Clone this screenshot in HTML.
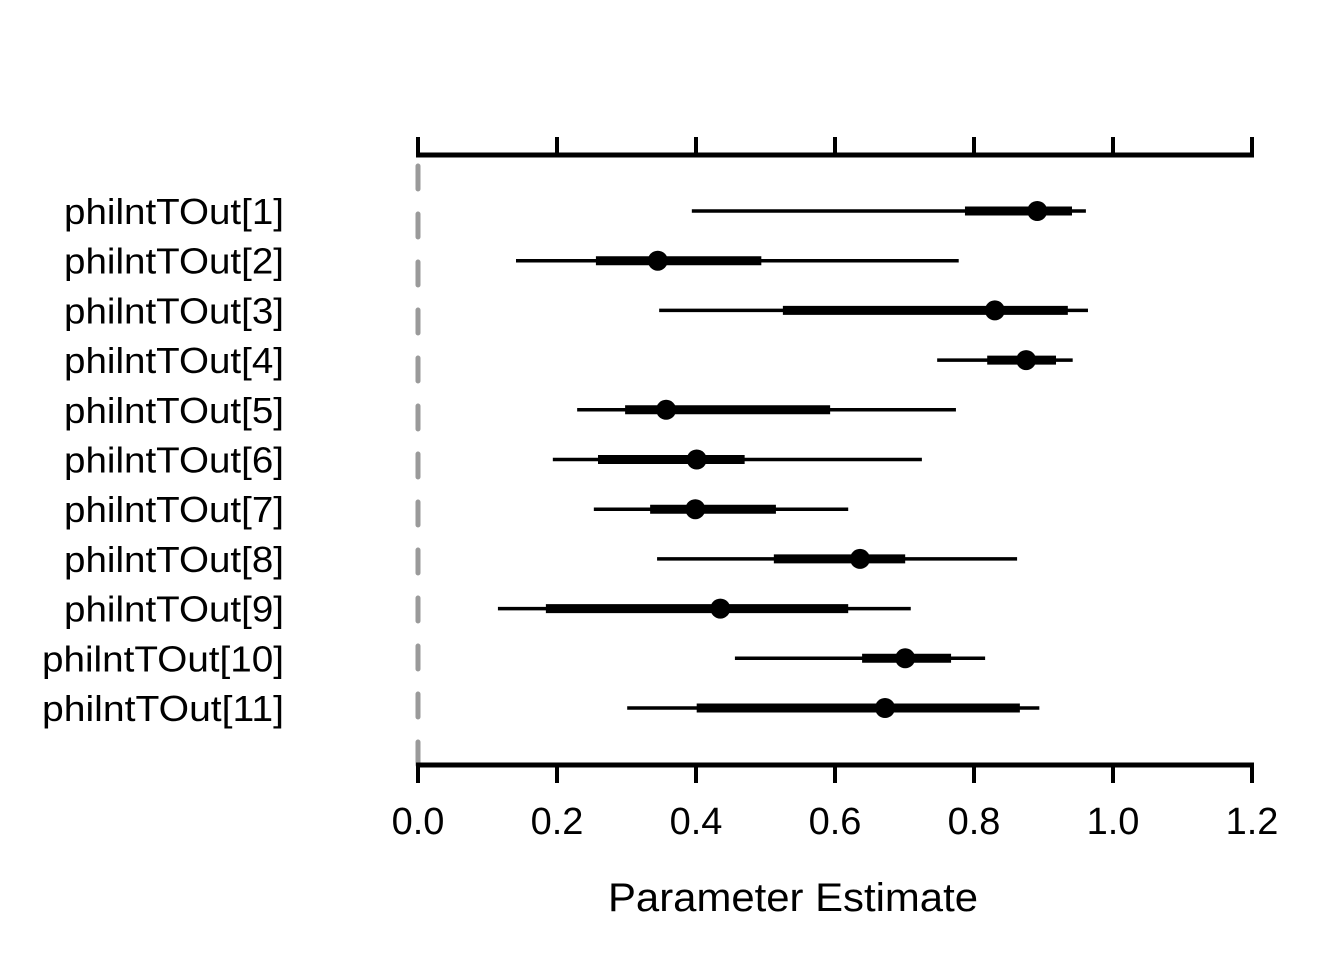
<!DOCTYPE html>
<html><head><meta charset="utf-8"><style>
html,body{margin:0;padding:0;background:#fff;}
svg{display:block;font-family:"Liberation Sans",Arial,sans-serif;}
</style></head><body>
<svg id="chart" width="1344" height="960" viewBox="0 0 1344 960">
<g id="axes"></g>
<g id="marks"></g>
<text x="793" y="911" text-anchor="middle" font-size="40" textLength="370" lengthAdjust="spacingAndGlyphs" fill="#000">Parameter Estimate</text>
</svg>
<script>
const labels = ["philntTOut[1]","philntTOut[2]","philntTOut[3]","philntTOut[4]","philntTOut[5]","philntTOut[6]","philntTOut[7]","philntTOut[8]","philntTOut[9]","philntTOut[10]","philntTOut[11]"];
const lo95 = [0.394,0.141,0.347,0.747,0.229,0.194,0.253,0.344,0.115,0.456,0.301];
const hi95 = [0.961,0.778,0.964,0.942,0.774,0.725,0.619,0.862,0.709,0.816,0.894];
const lo50 = [0.787,0.256,0.525,0.819,0.298,0.259,0.334,0.512,0.184,0.639,0.401];
const hi50 = [0.941,0.494,0.935,0.918,0.593,0.470,0.515,0.701,0.619,0.767,0.866];
const est  = [0.891,0.345,0.830,0.875,0.357,0.401,0.399,0.636,0.435,0.701,0.672];
const ticks = [0,0.2,0.4,0.6,0.8,1.0,1.2];
const tickLabels = ["0.0","0.2","0.4","0.6","0.8","1.0","1.2"];

const NS="http://www.w3.org/2000/svg";
const X = v => 418 + v*(1252-418)/1.2;
const Y = i => 211 + i*49.7;
function mk(tag, attrs, parent){const e=document.createElementNS(NS,tag);for(const k in attrs)e.setAttribute(k,attrs[k]);parent.appendChild(e);return e;}
const axes=document.getElementById('axes'), marks=document.getElementById('marks');

let d=mk('line',{x1:X(0),x2:X(0),y1:166,y2:765,stroke:'#9a9a9a','stroke-width':5,'stroke-dasharray':'23,25','stroke-linecap':'round'},axes);


let t=mk('line',{x1:X(0)-2,x2:X(1.2)+2,y1:155,y2:155,stroke:'#000','stroke-width':5},axes);


let b=mk('line',{x1:X(0)-2,x2:X(1.2)+2,y1:765,y2:765,stroke:'#000','stroke-width':5},axes);


ticks.forEach((v,i)=>{
  let a=mk('line',{x1:X(v),x2:X(v),y1:137,y2:155,stroke:'#000','stroke-width':4},axes);
  
  
  let c=mk('line',{x1:X(v),x2:X(v),y1:765,y2:783,stroke:'#000','stroke-width':4},axes);
  
  
  let tl=mk('text',{x:X(v),y:834,'text-anchor':'middle','font-size':38,fill:'#000'},axes);
  tl.textContent=tickLabels[i];
  
  
});
labels.forEach((l,i)=>{
  const y=Y(i);
  let tx=mk('text',{x:284,y:y+13,'text-anchor':'end','font-size':36,fill:'#000','textLength':l.length>13?242:220,'lengthAdjust':'spacingAndGlyphs'},marks);
  tx.textContent=l;
  
  
  let l1=mk('line',{x1:X(lo95[i]),x2:X(hi95[i]),y1:y,y2:y,stroke:'#000','stroke-width':3.5},marks);
  
  
  let l2=mk('line',{x1:X(lo50[i]),x2:X(hi50[i]),y1:y,y2:y,stroke:'#000','stroke-width':9},marks);
  
  
  let p=mk('circle',{cx:X(est[i]),cy:y,r:10,fill:'#000'},marks);
  
  
});
</script>
</body></html>
